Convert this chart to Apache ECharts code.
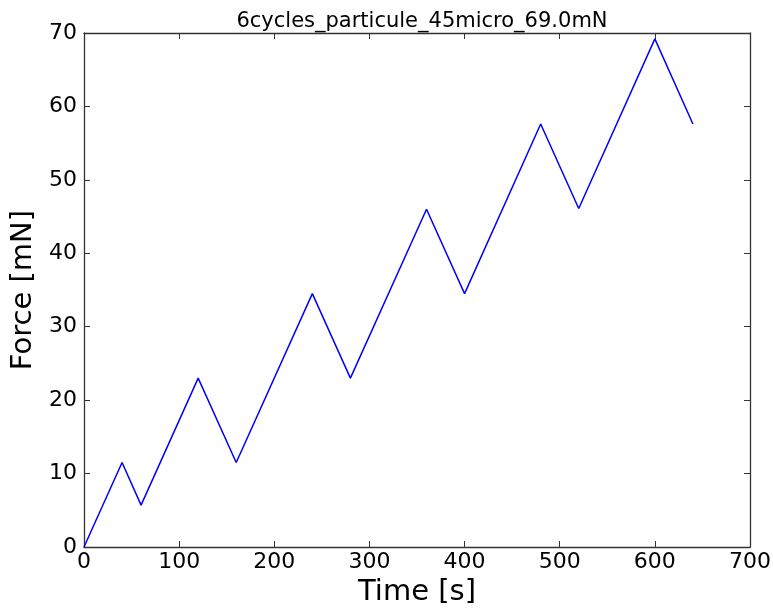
<!DOCTYPE html>
<html>
<head>
<meta charset="utf-8">
<script src="https://cdn.jsdelivr.net/npm/echarts@6/dist/echarts.min.js"></script>
<style>
  html, body { margin: 0; padding: 0; background: #fff; }
  #chart { width: 773px; height: 608px; }
</style>
</head>
<body>
<div id="chart"></div>
<script>
// time [s] and force [mN]
const time = [0, 40, 60, 120, 160, 240, 280, 360, 400, 480, 520, 600, 640];
const force = [0, 11.5, 5.7, 23, 11.5, 34.5, 23, 46, 34.5, 57.6, 46.1, 69.2, 57.6];
const xTicks = [0, 100, 200, 300, 400, 500, 600, 700];
const yTicks = [0, 10, 20, 30, 40, 50, 60, 70];

const chart = echarts.init(document.getElementById('chart'));
const font = 'DejaVu Sans';

function axisBase(extra) {
  return Object.assign({
    type: 'value',
    axisLine: { show: true, onZero: false, lineStyle: { color: '#333', width: 1.3 } },
    axisTick: { show: true, inside: true, length: 6, lineStyle: { color: '#333' } },
    splitLine: { show: false }
  }, extra);
}

chart.setOption({
  animation: false,
  title: {
    text: '6cycles_particule_45micro_69.0mN',
    left: 417,
    top: 6,
    textAlign: 'center',
    textStyle: { fontFamily: font, fontSize: 21, fontWeight: 'normal', color: '#000' }
  },
  grid: { left: 84, right: 23, top: 33, bottom: 61, outerBoundsMode: 'none' },
  xAxis: [
    axisBase({
      min: xTicks[0], max: xTicks[xTicks.length - 1], interval: 100,
      position: 'bottom',
      name: 'Time [s]', nameLocation: 'middle', nameGap: 31,
      nameTextStyle: { fontFamily: font, fontSize: 29, color: '#000' },
      axisLabel: { fontFamily: font, fontSize: 22, color: '#000', margin: 4 }
    }),
    axisBase({
      min: xTicks[0], max: xTicks[xTicks.length - 1], interval: 100,
      position: 'top',
      axisLabel: { show: false }
    })
  ],
  yAxis: [
    axisBase({
      min: yTicks[0], max: yTicks[yTicks.length - 1], interval: 10,
      position: 'left',
      name: 'Force [mN]', nameLocation: 'middle', nameGap: 42,
      nameTextStyle: { fontFamily: font, fontSize: 29, color: '#000' },
      axisLabel: { fontFamily: font, fontSize: 22, color: '#000', margin: 7 }
    }),
    axisBase({
      min: yTicks[0], max: yTicks[yTicks.length - 1], interval: 10,
      position: 'right',
      axisLabel: { show: false }
    })
  ],
  series: [{
    type: 'line',
    data: time.map((t, i) => [t, force[i]]),
    showSymbol: false,
    lineStyle: { color: '#0000ff', width: 1.5 }
  }]
});
</script>
</body>
</html>
